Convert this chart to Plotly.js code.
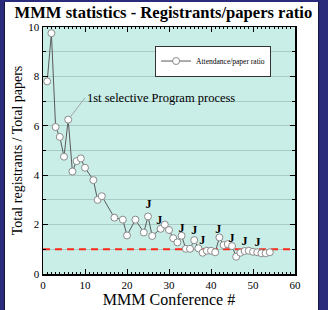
<!DOCTYPE html>
<html>
<head>
<meta charset="utf-8">
<script src="https://cdn.plot.ly/plotly-3.0.1.min.js"></script>
<style>
html,body{margin:0;padding:0;background:#2b2b7c;width:328px;height:310px;overflow:hidden;}
#frame{position:absolute;left:4px;top:2px;width:313px;height:308px;background:#ffffff;border-left:1px solid #15153a;border-right:1px solid #15153a;}
#chart{width:313px;height:308px;}
</style>
</head>
<body>
<div id="frame"><div id="chart"></div></div>
<script>
// Conference number and registrants/papers ratio
const conference = [1,2,3,4,5,6,7,8,9,10,12,13,14,17,19,20,22,24,25,26,28,29,30,31,32,33,34,35,36,37,38,39,40,41,42,43,44,45,46,47,48,49,50,51,52,53,54];
const ratio = [7.8,9.75,5.95,5.55,4.75,6.25,4.15,4.57,4.68,4.3,3.8,3.0,3.15,2.28,2.2,1.56,2.2,1.68,2.33,1.54,1.83,2.0,1.78,1.45,1.28,1.55,1.02,1.02,1.37,1.04,0.86,0.94,0.94,0.88,1.48,1.17,1.21,1.13,0.70,0.86,0.93,0.94,0.90,0.88,0.84,0.84,0.88];
// "J" (joint conference) labels
const jX = [25.1,27.7,33.0,36.0,37.9,41.7,44.9,48.0,51.1];
const jY = [2.79,2.15,1.83,1.74,1.33,1.77,1.42,1.30,1.26];
// reference line at ratio = 1
const refX = [0,60];
const refY = [1,1];
const xTicks = [0,10,20,30,40,50,60];
const yTicks = [0,2,4,6,8,10];
const seriesName = 'Attendance/paper ratio';
const noteText = '1st selective Program process';
const noteConf = 6;

const serif = 'Liberation Serif, Times New Roman, serif';

const traces = [
  {x: refX, y: refY, mode: 'lines', showlegend: false, hoverinfo: 'skip',
   line: {color: '#ff2a1a', width: 2, dash: '7px,5px'}},
  {x: conference, y: ratio, mode: 'lines+markers', name: seriesName,
   line: {color: '#5a5a5a', width: 1},
   marker: {symbol: 'circle', size: 7, color: '#ffffff', line: {color: '#8a8a8a', width: 1}}},
  {x: jX, y: jY, mode: 'text', text: jX.map(() => '<b>J</b>'), showlegend: false,
   textfont: {family: serif, size: 12, color: '#000000'}, hoverinfo: 'skip'}
];

const noteIdx = conference.indexOf(noteConf);

const layout = {
  width: 313, height: 308,
  margin: {l: 38, r: 23, t: 25, b: 36},
  paper_bgcolor: '#ffffff',
  plot_bgcolor: '#c9ede7',
  font: {family: serif, color: '#000000'},
  title: {text: '<b>MMM statistics - Registrants/papers ratio</b>', font: {family: serif, size: 16.6, color: '#000000'},
          xref: 'container', x: 0.506, xanchor: 'center', yref: 'container', y: 0.968, yanchor: 'middle'},
  xaxis: {range: [0, 60], tickvals: xTicks, ticktext: xTicks.map(String),
          showline: true, linecolor: '#000000', linewidth: 1.5, mirror: 'ticks',
          ticks: 'inside', ticklen: 5, tickcolor: '#000000', tickwidth: 1,
          minor: {dtick: 1, ticklen: 2, tickcolor: '#000000', ticks: 'inside', showgrid: false},
          showgrid: false, zeroline: false, tickfont: {family: serif, size: 11},
          title: {text: 'MMM Conference #', font: {family: serif, size: 16}, standoff: 2}},
  yaxis: {range: [0, 10], tickvals: yTicks, ticktext: yTicks.map(String),
          showline: true, linecolor: '#000000', linewidth: 1.5, mirror: 'ticks',
          ticks: 'inside', ticklen: 5, tickcolor: '#000000', tickwidth: 1,
          minor: {dtick: 1, ticklen: 3, tickcolor: '#000000', ticks: 'inside', showgrid: true, gridcolor: '#a9cbc5', gridwidth: 1},
          showgrid: true, gridcolor: '#a9cbc5', gridwidth: 1, zeroline: false, tickfont: {family: serif, size: 11},
          title: {text: 'Total registrants / Total papers', font: {family: serif, size: 14}, standoff: 2}},
  legend: {x: 0.905, xanchor: 'right', y: 0.925, yanchor: 'top', bgcolor: '#ffffff',
           bordercolor: '#333333', borderwidth: 1, font: {family: serif, size: 7.5},
           itemwidth: 30, tracegroupgap: 0, valign: 'middle'},
  annotations: [{x: conference[noteIdx], y: ratio[noteIdx], xref: 'x', yref: 'y',
                 ax: 10.0, ay: 7.13, axref: 'x', ayref: 'y', text: noteText, xanchor: 'left',
                 showarrow: true, arrowhead: 0, arrowwidth: 0.7, arrowcolor: '#8a8a8a', standoff: 4,
                 font: {family: serif, size: 12.5, color: '#000000'}}],
  showlegend: true
};

Plotly.newPlot('chart', traces, layout, {displayModeBar: false, staticPlot: true});
</script>
</body>
</html>
